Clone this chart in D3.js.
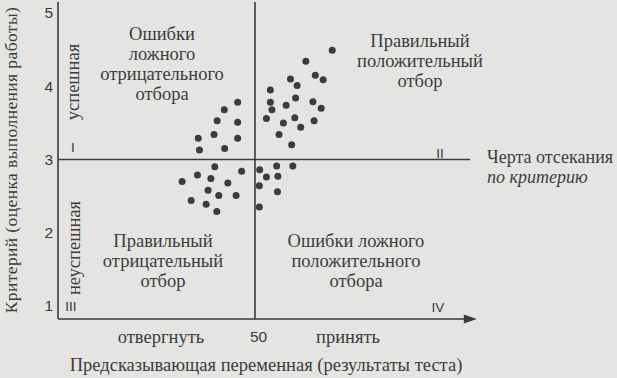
<!DOCTYPE html>
<html>
<head>
<meta charset="utf-8">
<script src="https://cdn.jsdelivr.net/npm/d3@7"></script>
<style>
  html, body { margin: 0; padding: 0; background: #e4e4e2; }
  svg { display: block; }
  .serif { font-family: "Liberation Serif", "DejaVu Serif", serif; fill: #3c3c3c; }
  .sans { font-family: "Liberation Sans", Arial, sans-serif; fill: #3a3a3a; }
</style>
</head>
<body>
<svg width="617" height="378"></svg>
<script>
// predictor score (test result) and criterion (job performance) for each person
const testScores = [
  45.6, 42.2, 40.4, 45.6, 39.6, 35.6, 45.6, 35.9, 42.3,
  69.6, 62.9, 65.3, 67.3, 59.0, 60.7, 53.9, 60.3, 64.7, 53.9, 54.3,
  57.9, 66.8, 52.9, 57.2, 60.1, 65.0, 61.6, 56.1, 59.3,
  39.8, 35.4, 38.8, 46.6, 31.5, 43.1, 38.1, 40.8, 45.2, 33.8, 37.6, 40.3,
  51.2, 55.5, 59.6, 52.9, 55.8, 51.1, 55.7, 51.1
];
const criterion = [
  3.78, 3.68, 3.53, 3.51, 3.34, 3.29, 3.29, 3.13, 3.15,
  4.49, 4.34, 4.15, 4.09, 4.10, 4.01, 3.95, 3.84, 3.79, 3.78, 3.68,
  3.74, 3.70, 3.56, 3.50, 3.57, 3.53, 3.44, 3.34, 3.20,
  2.90, 2.79, 2.74, 2.84, 2.70, 2.68, 2.58, 2.51, 2.51, 2.44, 2.39, 2.29,
  2.86, 2.91, 2.91, 2.76, 2.77, 2.64, 2.56, 2.35
];

const yTicks = [1, 2, 3, 4, 5];
const xTicks = [50];
const cutX = 50;
const cutY = 3;

const labelUL = ['Ошибки', 'ложного', 'отрицательного', 'отбора'];
const labelUR = ['Правильный', 'положительный', 'отбор'];
const labelLL = ['Правильный', 'отрицательный', 'отбор'];
const labelLR = ['Ошибки ложного', 'положительного', 'отбора'];
const romans = ['I', 'II', 'III', 'IV'];
const yTitle = 'Критерий (оценка выполнения работы)';
const xTitle = 'Предсказывающая переменная (результаты теста)';
const cutTitle = ['Черта отсекания', 'по критерию'];

const svg = d3.select('svg');
const ink = '#3a3a3a';
const fs = '18.5px';

const x = d3.scaleLinear().domain([0, 100]).range([58, 452]);
const y = d3.scaleLinear().domain([1, 5]).range([306, 13]);

const frameLeft = x(0), frameBottom = 319, frameTop = 2;

// axis frame
svg.append('line')
  .attr('x1', frameLeft).attr('x2', frameLeft).attr('y1', frameTop).attr('y2', frameBottom)
  .attr('stroke', ink).attr('stroke-width', 1.6);
svg.append('line')
  .attr('x1', frameLeft).attr('x2', x(104)).attr('y1', frameBottom).attr('y2', frameBottom)
  .attr('stroke', ink).attr('stroke-width', 1.6);
svg.append('path')
  .attr('d', `M${x(106.3)},${frameBottom} L${x(106.3) - 13},${frameBottom - 4.5} L${x(106.3) - 13},${frameBottom + 4.5} Z`)
  .attr('fill', ink);

// cutoff lines
svg.append('line')
  .attr('x1', x(cutX)).attr('x2', x(cutX)).attr('y1', frameTop).attr('y2', frameBottom)
  .attr('stroke', ink).attr('stroke-width', 1.6);
svg.append('line')
  .attr('x1', frameLeft).attr('x2', x(104.6)).attr('y1', y(cutY)).attr('y2', y(cutY))
  .attr('stroke', ink).attr('stroke-width', 1.6);

// axes tick labels
const yAxis = svg.append('g')
  .attr('transform', `translate(${frameLeft},0)`)
  .call(d3.axisLeft(y).tickValues(yTicks).tickSize(0).tickPadding(5).tickFormat(d3.format('d')));
yAxis.select('.domain').remove();
yAxis.selectAll('text')
  .attr('class', 'sans')
  .style('font-size', '15.5px');

const xAxis = svg.append('g')
  .attr('transform', `translate(3,${frameBottom})`)
  .call(d3.axisBottom(x).tickValues(xTicks).tickSize(0).tickPadding(12));
xAxis.select('.domain').remove();
xAxis.selectAll('text')
  .attr('class', 'sans')
  .style('font-size', '15.5px');

// dots
svg.append('g')
  .selectAll('circle')
  .data(testScores.map((d, i) => ({ t: d, c: criterion[i] })))
  .join('circle')
  .attr('cx', (d) => x(d.t))
  .attr('cy', (d) => y(d.c))
  .attr('r', 3.5)
  .attr('fill', '#3c3c3c');

// quadrant labels
function block(lines, cx, y0) {
  svg.append('text')
    .attr('class', 'serif')
    .attr('text-anchor', 'middle')
    .style('font-size', fs)
    .selectAll('tspan')
    .data(lines)
    .join('tspan')
    .attr('x', cx)
    .attr('y', (d, i) => y0 + i * 20)
    .text((d) => d);
}
block(labelUL, 162, 40);
block(labelUR, 420, 47);
block(labelLL, 163, 247);
block(labelLR, 356, 247);

// roman numerals
const romanPos = [[73, 152], [440, 158], [71, 311], [438, 312]];
svg.append('g')
  .selectAll('text')
  .data(romans)
  .join('text')
  .attr('class', 'sans')
  .attr('text-anchor', 'middle')
  .attr('x', (d, i) => romanPos[i][0])
  .attr('y', (d, i) => romanPos[i][1])
  .style('font-size', '13.5px')
  .text((d) => d);

// vertical side labels
svg.append('text')
  .attr('class', 'serif')
  .attr('text-anchor', 'middle')
  .attr('transform', 'translate(79,82) rotate(-90)')
  .style('font-size', fs)
  .text('успешная');
svg.append('text')
  .attr('class', 'serif')
  .attr('text-anchor', 'middle')
  .attr('transform', 'translate(80,248) rotate(-90)')
  .style('font-size', fs)
  .text('неуспешная');

// axis titles
svg.append('text')
  .attr('class', 'serif')
  .attr('text-anchor', 'middle')
  .attr('transform', 'translate(17,160) rotate(-90)')
  .style('font-size', '17.5px')
  .style('letter-spacing', '0.4px')
  .text(yTitle);
svg.append('text')
  .attr('class', 'serif')
  .attr('text-anchor', 'middle')
  .attr('x', 266).attr('y', 371)
  .style('font-size', fs)
  .text(xTitle);
svg.append('text')
  .attr('class', 'serif')
  .attr('text-anchor', 'middle')
  .attr('x', 161).attr('y', 343)
  .style('font-size', fs)
  .text('отвергнуть');
svg.append('text')
  .attr('class', 'serif')
  .attr('text-anchor', 'middle')
  .attr('x', 348).attr('y', 343)
  .style('font-size', fs)
  .text('принять');

// cutoff caption
svg.append('text')
  .attr('class', 'serif')
  .attr('x', 487).attr('y', 163)
  .style('font-size', '18px')
  .text(cutTitle[0]);
svg.append('text')
  .attr('class', 'serif')
  .attr('x', 487).attr('y', 183)
  .style('font-size', '18px')
  .style('font-style', 'italic')
  .text(cutTitle[1]);
</script>
</body>
</html>
